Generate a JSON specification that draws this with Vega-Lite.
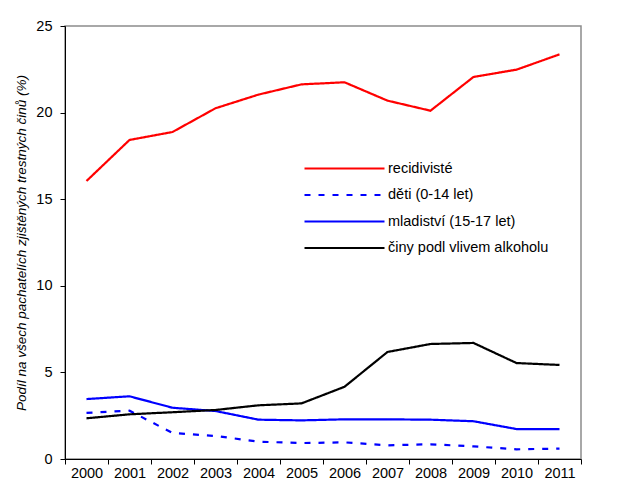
{
  "$schema": "https://vega.github.io/schema/vega-lite/v6.json",
  "width": 516,
  "height": 433,
  "autosize": {"type": "none"},
  "padding": {"left": 65, "top": 26, "right": 40, "bottom": 23},
  "background": "white",
  "config": {
    "font": "Liberation Sans",
    "view": {"stroke": "#8c8c8c", "strokeWidth": 1.5}
  },
  "data": {
    "values": [
      {"rok": "2000", "skupina": "recidivisté", "hodnota": 16.05},
      {"rok": "2001", "skupina": "recidivisté", "hodnota": 18.42},
      {"rok": "2002", "skupina": "recidivisté", "hodnota": 18.88},
      {"rok": "2003", "skupina": "recidivisté", "hodnota": 20.25},
      {"rok": "2004", "skupina": "recidivisté", "hodnota": 21.04},
      {"rok": "2005", "skupina": "recidivisté", "hodnota": 21.63},
      {"rok": "2006", "skupina": "recidivisté", "hodnota": 21.75},
      {"rok": "2007", "skupina": "recidivisté", "hodnota": 20.69},
      {"rok": "2008", "skupina": "recidivisté", "hodnota": 20.11},
      {"rok": "2009", "skupina": "recidivisté", "hodnota": 22.06},
      {"rok": "2010", "skupina": "recidivisté", "hodnota": 22.48},
      {"rok": "2011", "skupina": "recidivisté", "hodnota": 23.36},
      {"rok": "2000", "skupina": "děti (0-14 let)", "hodnota": 2.66},
      {"rok": "2001", "skupina": "děti (0-14 let)", "hodnota": 2.79},
      {"rok": "2002", "skupina": "děti (0-14 let)", "hodnota": 1.50},
      {"rok": "2003", "skupina": "děti (0-14 let)", "hodnota": 1.33},
      {"rok": "2004", "skupina": "děti (0-14 let)", "hodnota": 1.00},
      {"rok": "2005", "skupina": "děti (0-14 let)", "hodnota": 0.92},
      {"rok": "2006", "skupina": "děti (0-14 let)", "hodnota": 0.96},
      {"rok": "2007", "skupina": "děti (0-14 let)", "hodnota": 0.79},
      {"rok": "2008", "skupina": "děti (0-14 let)", "hodnota": 0.85},
      {"rok": "2009", "skupina": "děti (0-14 let)", "hodnota": 0.73},
      {"rok": "2010", "skupina": "děti (0-14 let)", "hodnota": 0.56},
      {"rok": "2011", "skupina": "děti (0-14 let)", "hodnota": 0.60},
      {"rok": "2000", "skupina": "mladiství (15-17 let)", "hodnota": 3.46},
      {"rok": "2001", "skupina": "mladiství (15-17 let)", "hodnota": 3.62},
      {"rok": "2002", "skupina": "mladiství (15-17 let)", "hodnota": 2.96},
      {"rok": "2003", "skupina": "mladiství (15-17 let)", "hodnota": 2.77},
      {"rok": "2004", "skupina": "mladiství (15-17 let)", "hodnota": 2.27},
      {"rok": "2005", "skupina": "mladiství (15-17 let)", "hodnota": 2.23},
      {"rok": "2006", "skupina": "mladiství (15-17 let)", "hodnota": 2.29},
      {"rok": "2007", "skupina": "mladiství (15-17 let)", "hodnota": 2.29},
      {"rok": "2008", "skupina": "mladiství (15-17 let)", "hodnota": 2.27},
      {"rok": "2009", "skupina": "mladiství (15-17 let)", "hodnota": 2.18},
      {"rok": "2010", "skupina": "mladiství (15-17 let)", "hodnota": 1.73},
      {"rok": "2011", "skupina": "mladiství (15-17 let)", "hodnota": 1.73},
      {"rok": "2000", "skupina": "činy podl vlivem alkoholu", "hodnota": 2.35},
      {"rok": "2001", "skupina": "činy podl vlivem alkoholu", "hodnota": 2.58},
      {"rok": "2002", "skupina": "činy podl vlivem alkoholu", "hodnota": 2.70},
      {"rok": "2003", "skupina": "činy podl vlivem alkoholu", "hodnota": 2.83},
      {"rok": "2004", "skupina": "činy podl vlivem alkoholu", "hodnota": 3.10},
      {"rok": "2005", "skupina": "činy podl vlivem alkoholu", "hodnota": 3.21},
      {"rok": "2006", "skupina": "činy podl vlivem alkoholu", "hodnota": 4.17},
      {"rok": "2007", "skupina": "činy podl vlivem alkoholu", "hodnota": 6.18},
      {"rok": "2008", "skupina": "činy podl vlivem alkoholu", "hodnota": 6.64},
      {"rok": "2009", "skupina": "činy podl vlivem alkoholu", "hodnota": 6.70},
      {"rok": "2010", "skupina": "činy podl vlivem alkoholu", "hodnota": 5.54},
      {"rok": "2011", "skupina": "činy podl vlivem alkoholu", "hodnota": 5.43}
    ]
  },
  "mark": {"type": "line", "strokeWidth": 2.2},
  "encoding": {
    "x": {
      "field": "rok",
      "type": "ordinal",
      "scale": {"type": "band", "paddingInner": 0, "paddingOuter": 0},
      "axis": {
        "title": null,
        "labelAngle": 0,
        "tickBand": "extent",
        "domainColor": "black",
        "tickColor": "black",
        "tickSize": 5,
        "labelColor": "black",
        "labelFontSize": 14.5,
        "labelPadding": 2
      }
    },
    "y": {
      "field": "hodnota",
      "type": "quantitative",
      "scale": {"domain": [0, 25], "nice": false, "zero": true},
      "axis": {
        "title": "Podíl na všech pachatelích zjištěných trestných činů (%)",
        "titleFontStyle": "italic",
        "titleFontWeight": "normal",
        "titleFontSize": 13.5,
        "titleColor": "black",
        "titlePadding": 7,
        "values": [0, 5, 10, 15, 20, 25],
        "grid": false,
        "domainColor": "black",
        "tickColor": "black",
        "tickSize": 5,
        "labelColor": "black",
        "labelFontSize": 14.5,
        "labelPadding": 8
      }
    },
    "color": {
      "field": "skupina",
      "type": "nominal",
      "sort": null,
      "scale": {
        "domain": ["recidivisté", "děti (0-14 let)", "mladiství (15-17 let)", "činy podl vlivem alkoholu"],
        "range": ["#ff0000", "#0000ff", "#0000ff", "#000000"]
      },
      "legend": {
        "title": null,
        "orient": "none",
        "legendX": 238,
        "legendY": 131,
        "symbolType": "M-1,0H7",
        "symbolSize": 400,
        "symbolStrokeWidth": 2.2,
        "labelOffset": 62,
        "labelFontSize": 14.5,
        "labelColor": "black",
        "rowPadding": 8.5,
        "labelLimit": 300
      }
    },
    "strokeDash": {
      "field": "skupina",
      "type": "nominal",
      "sort": null,
      "scale": {
        "domain": ["recidivisté", "děti (0-14 let)", "mladiství (15-17 let)", "činy podl vlivem alkoholu"],
        "range": [[1, 0], [6, 8], [1, 0], [1, 0]]
      },
      "legend": {
        "title": null,
        "orient": "none",
        "legendX": 238,
        "legendY": 131,
        "symbolType": "M-1,0H7",
        "symbolSize": 400,
        "symbolStrokeWidth": 2.2,
        "labelOffset": 62,
        "labelFontSize": 14.5,
        "labelColor": "black",
        "rowPadding": 8.5,
        "labelLimit": 300
      }
    }
  }
}
